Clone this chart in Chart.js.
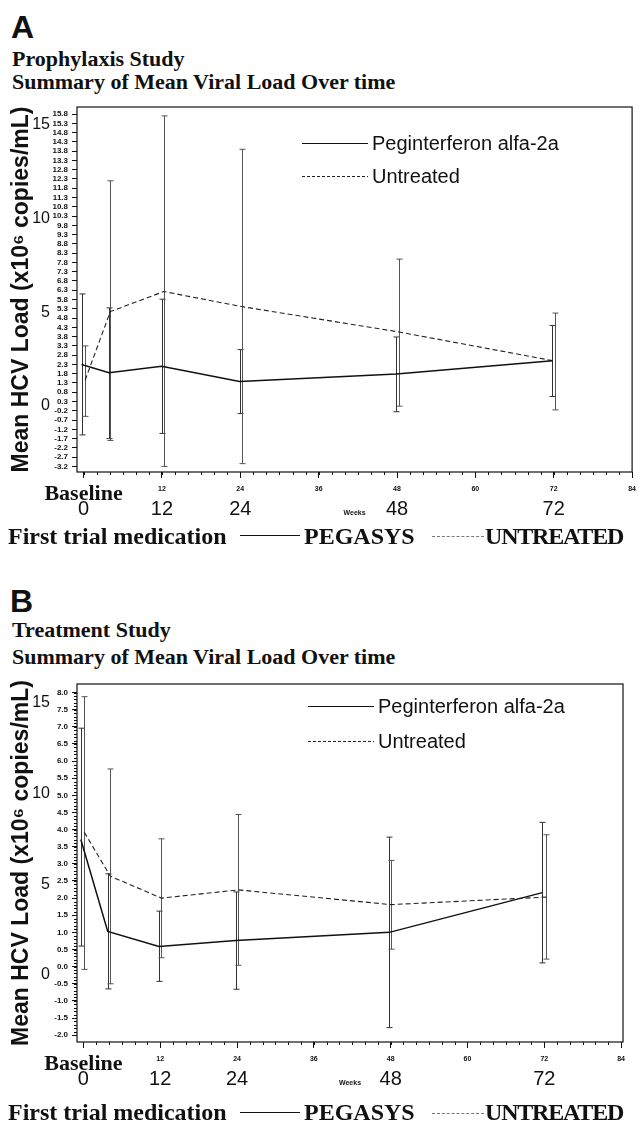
<!DOCTYPE html>
<html>
<head>
<meta charset="utf-8">
<title>Summary of Mean Viral Load Over time</title>
<script src="https://cdn.jsdelivr.net/npm/chart.js@4.4.1/dist/chart.umd.min.js"></script>
<style>
  html, body { margin: 0; padding: 0; background: #fff; }
  body { width: 639px; height: 1122px; position: relative; overflow: hidden; color: #111; }
  .abs { position: absolute; white-space: nowrap; }
  .letter { font: bold 32px "Liberation Sans", Arial, sans-serif; line-height: 32px; }
  .head { font: bold 22px "Liberation Serif", "Times New Roman", serif; line-height: 22px; }
  .foot { font: bold 24px "Liberation Serif", "Times New Roman", serif; line-height: 24px; }
  .tight { letter-spacing: -1.2px; }
  .solid { height: 0; border-top: 1.6px solid #111; }
  .dash { height: 0; border-top: 1px dashed #777; }
  canvas { position: absolute; left: 0; }
</style>
</head>
<body>

<div class="abs letter" style="left:11px; top:11px;">A</div>
<div class="abs head" style="left:12px; top:48px;">Prophylaxis Study</div>
<div class="abs head" style="left:12px; top:71px;">Summary of Mean Viral Load Over time</div>
<canvas id="chartA" width="639" height="440" style="top:95px;"></canvas>
<div class="abs foot" style="left:8px; top:524px;">First trial medication</div>
<div class="abs solid" style="left:240px; top:535px; width:60px;"></div>
<div class="abs foot" style="left:304px; top:524px;">PEGASYS</div>
<div class="abs dash" style="left:432px; top:536px; width:52px;"></div>
<div class="abs foot tight" style="left:485px; top:524px;">UNTREATED</div>

<div class="abs letter" style="left:10px; top:585px;">B</div>
<div class="abs head" style="left:12px; top:619px;">Treatment Study</div>
<div class="abs head" style="left:12px; top:646px;">Summary of Mean Viral Load Over time</div>
<canvas id="chartB" width="639" height="433" style="top:672px;"></canvas>
<div class="abs foot" style="left:8px; top:1100px;">First trial medication</div>
<div class="abs solid" style="left:240px; top:1112px; width:60px;"></div>
<div class="abs foot" style="left:304px; top:1100px;">PEGASYS</div>
<div class="abs dash" style="left:432px; top:1113px; width:52px;"></div>
<div class="abs foot tight" style="left:485px; top:1100px;">UNTREATED</div>

<script>
// Mean HCV viral load (x10^6 copies/mL) with error bars

// Panel A - prophylaxis study
const pegA_weeks = [-0.3, 3.9, 11.95, 23.9, 47.9, 71.8];
const pegA_mean  = [2.3, 1.85, 2.2, 1.38, 1.78, 2.5];
const pegA_low   = [-1.5, -1.7, -1.42, -0.35, -0.25, 0.57];
const pegA_high  = [6.1, 5.35, 5.82, 3.1, 3.78, 4.4];

const untA_weeks = [0.25, 4.1, 12.3, 24.2, 48.3, 72.2];
const untA_mean  = [1.45, 5.15, 6.23, 5.42, 4.05, 2.48];
const untA_low   = [-0.5, -1.8, -3.2, -3.05, 0.05, -0.15];
const untA_high  = [3.3, 12.2, 15.7, 13.9, 7.98, 5.07];

// Panel B - treatment study
const pegB_weeks = [-0.4, 3.8, 11.8, 23.8, 47.8, 71.7];
const pegB_mean  = [3.71, 1.03, 0.59, 0.76, 1.0, 2.16];
const pegB_low   = [0.6, -0.65, -0.43, -0.66, -1.78, 0.11];
const pegB_high  = [6.96, 2.71, 1.62, 2.18, 3.78, 4.21];

const untB_weeks = [0.15, 4.2, 12.2, 24.2, 48.1, 72.3];
const untB_mean  = [3.92, 2.64, 2.0, 2.24, 1.81, 2.03];
const untB_low   = [-0.08, -0.5, 0.26, 0.04, 0.51, 0.22];
const untB_high  = [7.88, 5.77, 3.73, 4.44, 3.10, 3.85];

// Tick labels
const weekTicks = [0, 12, 24, 36, 48, 60, 72, 84];
const bigWeekTicks = [0, 12, 24, 48, 72];
const bigLoadTicks = [0, 5, 10, 15];
const loadTicksA = [-3.2, -2.7, -2.2, -1.7, -1.2, -0.7, -0.2, 0.3, 0.8, 1.3, 1.8, 2.3, 2.8, 3.3,
  3.8, 4.3, 4.8, 5.3, 5.8, 6.3, 6.8, 7.3, 7.8, 8.3, 8.8, 9.3, 9.8, 10.3, 10.8, 11.3, 11.8,
  12.3, 12.8, 13.3, 13.8, 14.3, 14.8, 15.3, 15.8];
const loadTicksB = [-2.0, -1.5, -1.0, -0.5, 0.0, 0.5, 1.0, 1.5, 2.0, 2.5, 3.0, 3.5, 4.0, 4.5,
  5.0, 5.5, 6.0, 6.5, 7.0, 7.5, 8.0];

const seriesNames = ['Peginterferon alfa-2a', 'Untreated'];

const SANS = '"Liberation Sans", Arial, sans-serif';
const SERIF = '"Liberation Serif", "Times New Roman", serif';

function toPoints(xs, ys) {
    return xs.map(function(x, i) { return { x: x, y: ys[i] }; });
}

// box around the plot area
const framePlugin = {
    id: 'frame',
    afterDraw: function(chart) {
        const ctx = chart.ctx;
        const a = chart.chartArea;
        ctx.save();
        ctx.strokeStyle = '#111';
        ctx.lineWidth = 1.2;
        ctx.strokeRect(a.left, a.top, a.right - a.left, a.bottom - a.top);
        ctx.restore();
    }
};

// vertical error bars with caps
const errorBarPlugin = {
    id: 'errorBars',
    beforeDatasetsDraw: function(chart) {
        const ctx = chart.ctx;
        const yScale = chart.scales.y;
        chart.data.datasets.forEach(function(ds, i) {
            const meta = chart.getDatasetMeta(i);
            ctx.save();
            ctx.strokeStyle = ds.barColor;
            ctx.lineWidth = 1;
            meta.data.forEach(function(pt, j) {
                const x = Math.round(pt.x) + 0.5;
                const yLo = yScale.getPixelForValue(ds.errLow[j]);
                const yHi = yScale.getPixelForValue(ds.errHigh[j]);
                ctx.beginPath();
                ctx.moveTo(x, yLo); ctx.lineTo(x, yHi);
                ctx.moveTo(x - 3, yLo); ctx.lineTo(x + 3, yLo);
                ctx.moveTo(x - 3, yHi); ctx.lineTo(x + 3, yHi);
                ctx.stroke();
            });
            ctx.restore();
        });
    }
};

// small unlabeled tick marks
const minorTickPlugin = {
    id: 'minorTicks',
    afterDraw: function(chart, args, opts) {
        const ctx = chart.ctx;
        const a = chart.chartArea;
        const sx = chart.scales.x, sy = chart.scales.y;
        ctx.save();
        ctx.strokeStyle = '#111';
        ctx.lineWidth = 1;
        ctx.beginPath();
        if (opts.xStep) {
            for (let k = 0; k * opts.xStep <= sx.max; k++) {
                const px = Math.round(sx.getPixelForValue(k * opts.xStep)) + 0.5;
                ctx.moveTo(px, a.bottom);
                ctx.lineTo(px, a.bottom + 3);
            }
        }
        if (opts.yStep) {
            for (let k = Math.ceil(opts.yFrom / opts.yStep); k * opts.yStep <= opts.yTo + 1e-9; k++) {
                const py = Math.round(sy.getPixelForValue(k * opts.yStep)) + 0.5;
                ctx.moveTo(a.left, py);
                ctx.lineTo(a.left - 3, py);
            }
        }
        ctx.stroke();
        ctx.restore();
    }
};

// legend inside the plot area (line sample + label)
const innerLegendPlugin = {
    id: 'innerLegend',
    afterDraw: function(chart, args, opts) {
        const ctx = chart.ctx;
        const a = chart.chartArea;
        ctx.save();
        ctx.font = '20px ' + SANS;
        ctx.textBaseline = 'middle';
        ctx.fillStyle = '#111';
        chart.data.datasets.forEach(function(ds, i) {
            const y = Math.round(a.top + opts.y + i * opts.gap) + 0.5;
            const x0 = a.left + opts.x;
            ctx.strokeStyle = ds.borderColor;
            ctx.lineWidth = 1.2;
            ctx.setLineDash(ds.legendDash || []);
            ctx.beginPath();
            ctx.moveTo(x0, y);
            ctx.lineTo(x0 + opts.lineLength, y);
            ctx.stroke();
            ctx.setLineDash([]);
            ctx.fillText(ds.label, x0 + opts.lineLength + 4, y + 1);
        });
        ctx.restore();
    }
};

function makeChart(canvasId, d, p) {
    const ctx = document.getElementById(canvasId).getContext('2d');
    return new Chart(ctx, {
        type: 'line',
        data: {
            datasets: [{
                label: seriesNames[0],
                data: toPoints(d.pegWeeks, d.pegMean),
                errLow: d.pegLow,
                errHigh: d.pegHigh,
                borderColor: '#111',
                borderWidth: 1.5,
                barColor: '#333',
                pointRadius: 0,
                tension: 0,
                fill: false
            }, {
                label: seriesNames[1],
                data: toPoints(d.untWeeks, d.untMean),
                errLow: d.untLow,
                errHigh: d.untHigh,
                borderColor: '#222',
                borderWidth: 1.1,
                borderDash: [5, 3],
                legendDash: [3, 2],
                barColor: '#555',
                pointRadius: 0,
                tension: 0,
                fill: false
            }]
        },
        options: {
            responsive: false,
            animation: false,
            layout: {
                padding: { top: 12, right: p.padRight, bottom: 5, left: 0 }
            },
            scales: {
                x: {
                    type: 'linear',
                    position: 'bottom',
                    weight: 0,
                    min: -1,
                    max: p.xMax,
                    afterBuildTicks: function(s) { s.ticks = weekTicks.map(function(v) { return { value: v }; }); },
                    afterFit: function(s) { s.height = 28; },
                    grid: { drawOnChartArea: false, drawTicks: true, tickLength: 6, color: '#111' },
                    border: { display: false },
                    ticks: {
                        autoSkip: false,
                        maxRotation: 0,
                        padding: 3,
                        color: '#111',
                        callback: function(v) { return v === 0 ? 'Baseline' : String(v); },
                        font: function(c) {
                            if (c.tick && c.tick.value === 0) {
                                return { family: SERIF, size: 22, weight: 'bold', lineHeight: 1.2 };
                            }
                            return { family: SANS, size: 7, weight: 'bold', lineHeight: 2.4 };
                        }
                    }
                },
                x2: {
                    type: 'linear',
                    position: 'bottom',
                    weight: 1,
                    min: -1,
                    max: p.xMax,
                    afterBuildTicks: function(s) { s.ticks = bigWeekTicks.map(function(v) { return { value: v }; }); },
                    afterFit: function(s) { s.height = 30; },
                    grid: { display: false, drawTicks: false },
                    border: { display: false },
                    ticks: {
                        autoSkip: false,
                        maxRotation: 0,
                        padding: -3,
                        color: '#111',
                        font: { family: SANS, size: 20 }
                    },
                    title: {
                        display: true,
                        text: 'Weeks',
                        color: '#111',
                        font: { family: SANS, size: 7, weight: 'bold' },
                        padding: { top: 0, bottom: 13 }
                    }
                },
                y: {
                    type: 'linear',
                    position: 'left',
                    weight: 0,
                    min: p.yMin,
                    max: p.yMax,
                    afterBuildTicks: function(s) { s.ticks = p.yTicks.map(function(v) { return { value: v }; }); },
                    afterFit: function(s) { s.width = 26; },
                    grid: { drawOnChartArea: false, drawTicks: true, tickLength: 5, color: '#111' },
                    border: { display: false },
                    ticks: {
                        autoSkip: false,
                        padding: 4,
                        color: '#111',
                        font: { family: SANS, size: 8, weight: 'bold' },
                        callback: function(v) { return v.toFixed(1); }
                    }
                },
                y2: {
                    type: 'linear',
                    position: 'left',
                    weight: 1,
                    min: p.y2Min,
                    max: p.y2Max,
                    afterBuildTicks: function(s) { s.ticks = bigLoadTicks.map(function(v) { return { value: v }; }); },
                    afterFit: function(s) { s.width = 51; },
                    grid: { display: false, drawTicks: false },
                    border: { display: false },
                    ticks: {
                        autoSkip: false,
                        padding: 1,
                        color: '#111',
                        font: { family: SANS, size: 16 }
                    },
                    title: {
                        display: true,
                        text: 'Mean HCV Load (x10\u2076 copies/mL)',
                        color: '#111',
                        font: { family: SANS, size: 23, weight: 'bold' },
                        padding: { top: 8, bottom: 0 }
                    }
                }
            },
            plugins: {
                legend: { display: false },
                tooltip: { enabled: false },
                innerLegend: { x: p.legendX, y: p.legendY, gap: p.legendGap, lineLength: 66 },
                minorTicks: { xStep: 2, yStep: p.yMinorStep, yFrom: p.yTicks[0], yTo: p.yTicks[p.yTicks.length - 1] }
            }
        },
        plugins: [framePlugin, errorBarPlugin, minorTickPlugin, innerLegendPlugin]
    });
}

makeChart('chartA', {
    pegWeeks: pegA_weeks, pegMean: pegA_mean, pegLow: pegA_low, pegHigh: pegA_high,
    untWeeks: untA_weeks, untMean: untA_mean, untLow: untA_low, untHigh: untA_high
}, {
    xMax: 84, yMin: -3.5, yMax: 16.18, y2Min: -3.52, y2Max: 15.96,
    yTicks: loadTicksA, yMinorStep: 0, padRight: 6,
    legendX: 225, legendY: 36, legendGap: 33
});

makeChart('chartB', {
    pegWeeks: pegB_weeks, pegMean: pegB_mean, pegLow: pegB_low, pegHigh: pegB_high,
    untWeeks: untB_weeks, untMean: untB_mean, untLow: untB_low, untHigh: untB_high
}, {
    xMax: 84.3, yMin: -2.2, yMax: 8.25, y2Min: -3.7, y2Max: 16.05,
    yTicks: loadTicksB, yMinorStep: 0.1, padRight: 16,
    legendX: 231, legendY: 22, legendGap: 35
});
</script>
</body>
</html>
